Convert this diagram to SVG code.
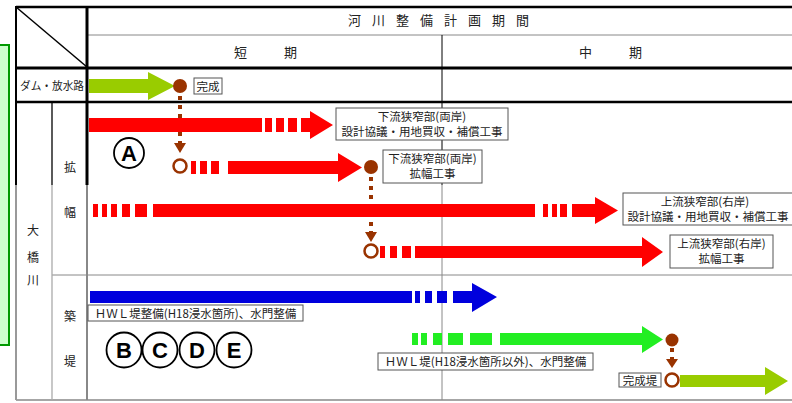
<svg xmlns="http://www.w3.org/2000/svg" width="792" height="403" viewBox="0 0 792 403">
<style>
text{font-family:"Noto Sans CJK JP","Noto Sans",sans-serif;fill:#222;}
.lbl{font-size:11.5px;text-anchor:middle;}
.hd{font-size:13px;}
.col{font-size:12px;text-anchor:middle;}
.box{fill:#fff;stroke:#555;stroke-width:1;}
.red{fill:#ff0000;}
.blue{fill:#0000dd;}
.grn{fill:#22ee22;}
.yg{fill:#99cc00;}
.dot{stroke:#993300;stroke-width:4;stroke-dasharray:4 5;fill:none;}
.ms{fill:#993300;}
.mo{fill:#fff;stroke:#993300;stroke-width:2.5;}
.circ{fill:#fff;stroke:#000;stroke-width:1.8;}
.cl{font-family:"Liberation Sans",Arial,sans-serif;font-weight:bold;font-size:22px;text-anchor:middle;fill:#000;}
</style>
<rect width="792" height="403" fill="#fff"/>
<g id="side-note">
<rect x="-2" y="45" width="11" height="300" fill="#ccffcc" stroke="#009900" stroke-width="2"/>
</g>
<g id="table">
<line x1="16" y1="7" x2="792" y2="7" stroke="#000" stroke-width="2.5"/>
<line x1="16" y1="7" x2="87" y2="67" stroke="#000" stroke-width="1.5"/>
<line x1="87" y1="35" x2="792" y2="35" stroke="#888" stroke-width="1"/>
<line x1="16" y1="68" x2="792" y2="68" stroke="#000" stroke-width="3"/>
<line x1="16" y1="102" x2="792" y2="102" stroke="#000" stroke-width="2.7"/>
<line x1="52" y1="275" x2="792" y2="275" stroke="#888" stroke-width="1"/>
<line x1="16" y1="400" x2="792" y2="400" stroke="#888" stroke-width="1.5"/>
<line x1="16" y1="6" x2="16" y2="185" stroke="#000" stroke-width="2"/>
<line x1="16" y1="185" x2="16" y2="400" stroke="#999" stroke-width="2"/>
<line x1="52" y1="102" x2="52" y2="185" stroke="#000" stroke-width="1.3"/>
<line x1="52" y1="185" x2="52" y2="400" stroke="#aaa" stroke-width="1.3"/>
<line x1="87" y1="6" x2="87" y2="185" stroke="#000" stroke-width="3"/>
<line x1="87" y1="185" x2="87" y2="400" stroke="#888" stroke-width="2"/>
<line x1="442" y1="35" x2="442" y2="185" stroke="#000" stroke-width="1"/>
<line x1="442" y1="185" x2="442" y2="400" stroke="#888" stroke-width="1"/>
<text class="hd" x="348" y="25" letter-spacing="11" font-size="14">河川整備計画期間</text>
<text class="hd" x="234 284" y="57" font-size="12">短期</text>
<text class="hd" x="579 629" y="57" font-size="12">中期</text>
<text x="20" y="90" font-size="11.5" textLength="64" lengthAdjust="spacingAndGlyphs">ダム・放水路</text>
<text class="col" x="70" y="172">拡</text>
<text class="col" x="70" y="217">幅</text>
<text class="col" x="33" y="235">大</text>
<text class="col" x="33" y="262">橋</text>
<text class="col" x="33" y="285">川</text>
<text class="col" x="70" y="321">築</text>
<text class="col" x="70" y="366">堤</text>
</g>
<g id="connectors">
<line class="dot" x1="180" y1="96" x2="180" y2="143"/>
<polygon class="ms" points="174,143 186,143 180,153"/>
<line class="dot" x1="371" y1="177" x2="371" y2="232"/>
<polygon class="ms" points="365,232 377,232 371,242"/>
<line class="dot" x1="672" y1="348" x2="672" y2="359"/>
<polygon class="ms" points="666,359 678,359 672,368"/>
</g>
<g id="dam-arrow">
<polygon class="yg" points="89,79 148,79 148,72 175,86 148,100 148,93 89,93"/>
<circle class="ms" cx="180" cy="86" r="7"/>
<rect class="box" x="194" y="78" width="28" height="16"/>
<text class="lbl" x="208" y="90.5" font-size="11">完成</text>
</g>
<g id="arrow-A1">
<rect class="red" x="89" y="118" width="173" height="14"/>
<rect class="red" x="265" y="118" width="7" height="14"/>
<rect class="red" x="276" y="118" width="8" height="14"/>
<rect class="red" x="288" y="118" width="9" height="14"/>
<polygon class="red" points="301,118 310,118 310,111 333,125 310,139 310,132 301,132"/>
<rect class="box" x="336" y="108" width="172" height="32"/>
<text class="lbl" x="422" y="121">下流狭窄部(両岸)</text>
<text class="lbl" x="422" y="136">設計協議・用地買収・補償工事</text>
</g>
<g id="label-A">
<circle class="circ" cx="129" cy="153" r="15"/>
<text class="cl" x="129" y="161">A</text>
</g>
<g id="arrow-A2">
<circle class="mo" cx="180" cy="166" r="6.5"/>
<rect class="red" x="191" y="161" width="5" height="13"/>
<rect class="red" x="200" y="161" width="7" height="13"/>
<rect class="red" x="211" y="161" width="8" height="13"/>
<polygon class="red" points="228,161 338,161 338,153 362,167.5 338,182 338,174 228,174"/>
<circle class="ms" cx="371" cy="167" r="7"/>
<rect class="box" x="383" y="150" width="99" height="33"/>
<text class="lbl" x="432.5" y="162.5" font-size="11">下流狭窄部(両岸)</text>
<text class="lbl" x="432.5" y="178" font-size="11">拡幅工事</text>
</g>
<g id="arrow-A3">
<rect class="red" x="93" y="204" width="5" height="13"/>
<rect class="red" x="102" y="204" width="5" height="13"/>
<rect class="red" x="111" y="204" width="6" height="13"/>
<rect class="red" x="122" y="204" width="8" height="13"/>
<rect class="red" x="135" y="204" width="12" height="13"/>
<rect class="red" x="153" y="204" width="382" height="13"/>
<rect class="red" x="543" y="204" width="5" height="13"/>
<rect class="red" x="552" y="204" width="5" height="13"/>
<rect class="red" x="560" y="204" width="7" height="13"/>
<polygon class="red" points="572,204 595,204 595,197 618,210.5 595,224 595,217 572,217"/>
<rect class="box" x="623" y="193" width="180" height="32"/>
<text class="lbl" x="705" y="206">上流狭窄部(右岸)</text>
<text class="lbl" x="708" y="221">設計協議・用地買収・補償工事</text>
</g>
<g id="arrow-A4">
<circle class="mo" cx="371" cy="251" r="6.5"/>
<rect class="red" x="380" y="246" width="5" height="12"/>
<rect class="red" x="390" y="246" width="7" height="12"/>
<rect class="red" x="402" y="246" width="9" height="12"/>
<polygon class="red" points="415,246 642,246 642,237 663,252 642,267 642,258 415,258"/>
<rect class="box" x="670" y="235" width="103" height="33"/>
<text class="lbl" x="721.5" y="248">上流狭窄部(右岸)</text>
<text class="lbl" x="721.5" y="263">拡幅工事</text>
</g>
<g id="arrow-blue">
<rect class="blue" x="90" y="291" width="322" height="12"/>
<rect class="blue" x="415" y="291" width="5" height="12"/>
<rect class="blue" x="425" y="291" width="7" height="12"/>
<rect class="blue" x="437" y="291" width="10" height="12"/>
<polygon class="blue" points="453,291 472,291 472,283 497,297 472,312 472,303 453,303"/>
<rect class="box" x="88" y="305" width="215" height="16"/>
<text class="lbl" x="195.5" y="317.5" font-size="11">ＨＷＬ堤整備(H18浸水箇所)、水門整備</text>
</g>
<g id="label-BCDE">
<circle class="circ" cx="124" cy="350" r="17.5"/>
<text class="cl" x="124" y="358">B</text>
<circle class="circ" cx="160" cy="350" r="17.5"/>
<text class="cl" x="160" y="358">C</text>
<circle class="circ" cx="197" cy="350" r="17.5"/>
<text class="cl" x="197" y="358">D</text>
<circle class="circ" cx="234" cy="350" r="17.5"/>
<text class="cl" x="234" y="358">E</text>
</g>
<g id="arrow-green">
<rect class="grn" x="412" y="333" width="6" height="12"/>
<rect class="grn" x="421" y="333" width="6" height="12"/>
<rect class="grn" x="433" y="333" width="9" height="12"/>
<rect class="grn" x="448" y="333" width="15" height="12"/>
<rect class="grn" x="470" y="333" width="22" height="12"/>
<polygon class="grn" points="500,333 642,333 642,326 663,339.5 642,353 642,345 500,345"/>
<circle class="ms" cx="672" cy="340" r="6.5"/>
<rect class="box" x="378" y="353" width="215" height="17"/>
<text class="lbl" x="485.5" y="366" font-size="11">ＨＷＬ堤(H18浸水箇所以外)、水門整備</text>
</g>
<g id="arrow-complete">
<circle class="mo" cx="672" cy="380" r="6.5"/>
<rect class="box" x="619" y="373" width="42" height="14"/>
<text class="lbl" x="640" y="384.5" font-size="11">完成堤</text>
<polygon class="yg" points="680,375 765,375 765,367 788,381 765,395 765,387 680,387"/>
</g>
</svg>
